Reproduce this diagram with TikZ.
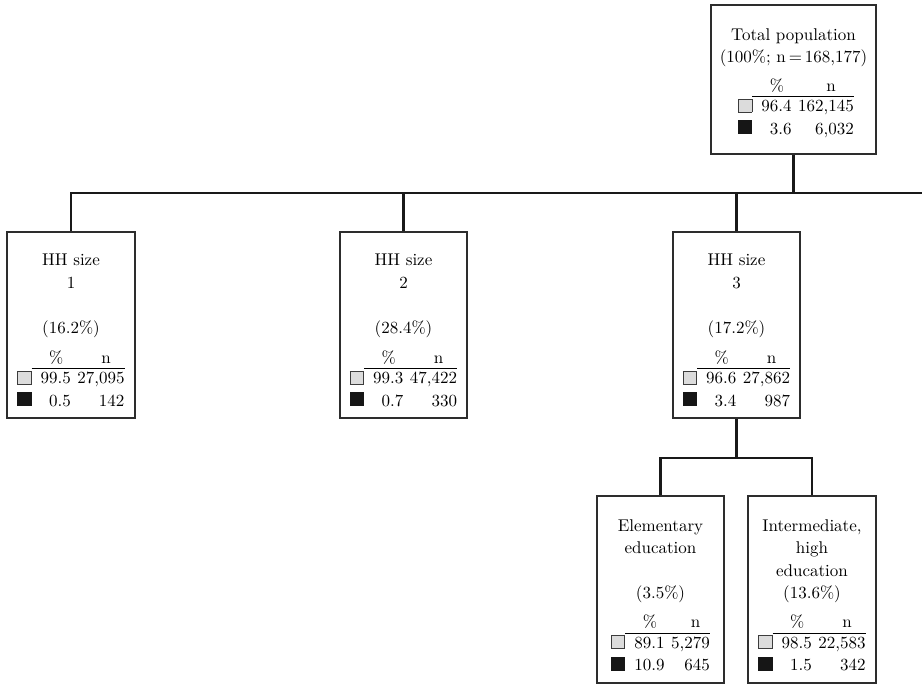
\documentclass[tikz,border=0pt]{standalone}
\usepackage{array}
\usepackage{graphicx}
\usetikzlibrary{calc}
\definecolor{sqlight}{RGB}{220,220,220}
\definecolor{sqedge}{RGB}{60,60,60}
\definecolor{sqdark}{RGB}{22,22,22}
\definecolor{boxedge}{RGB}{45,45,45}
\definecolor{connc}{RGB}{25,25,25}
\newcommand\lsq{{\setlength\fboxsep{0pt}\setlength\fboxrule{0.5pt}\fcolorbox{sqedge}{sqlight}{\rule{0pt}{7.3pt}\hspace{7.3pt}}}}
\newcommand\dsq{{\color{sqdark}\rule{8.3pt}{8.3pt}}}
\newcommand\bigtext[1]{\scalebox{1.7}{\fontsize{10}{13.2}\selectfont #1}}
\newcommand\stattab[4]{\bigtext{\setlength{\arrayrulewidth}{0.55pt}\begin{tabular}[t]{@{}c@{}>{\hspace{5.3pt}}r@{\hspace{3.8pt}}r@{}}
 & \multicolumn{1}{c@{\hspace{3.8pt}}}{\%} & \multicolumn{1}{c@{}}{n}\\[-1.2pt]\cline{2-3}
\lsq & #1 & #2\\
\dsq & #3 & #4
\end{tabular}}}
\newcommand\ttl[1]{\bigtext{\begin{tabular}[t]{@{}c@{}}#1\end{tabular}}}
\tikzset{
  stbox/.style={draw=boxedge,line width=1.1pt,inner sep=0pt},
  txt/.style={inner sep=0pt,anchor=base},
  conn/.style={draw=connc,line width=2.4pt}
}
\begin{document}
\begin{tikzpicture}[x=1pt,y=-1pt]
\useasboundingbox (0,0) rectangle (922,685);
% boxes
\node[stbox,minimum width=165pt,minimum height=149pt] (tot) at (793.5,79.5) {};
\node[stbox,minimum width=128pt,minimum height=186pt] (hh1) at (71,325) {};
\node[stbox,minimum width=127pt,minimum height=186pt] (hh2) at (403.5,325) {};
\node[stbox,minimum width=127pt,minimum height=186pt] (hh3) at (736.5,325) {};
\node[stbox,minimum width=127pt,minimum height=187pt] (ele) at (660.5,589.5) {};
\node[stbox,minimum width=128pt,minimum height=187pt] (int) at (812,589.5) {};
% titles
\node[txt] (totT) at ($(tot.north)+(0,36)$) {\ttl{Total population\\(100\%; n\,=\,168,177)}};
\node[txt] (hh1T) at ($(hh1.north)+(0,34.5)$) {\ttl{HH size\\1\\ \\(16.2\%)}};
\node[txt] (hh2T) at ($(hh2.north)+(0,34.5)$) {\ttl{HH size\\2\\ \\(28.4\%)}};
\node[txt] (hh3T) at ($(hh3.north)+(0,34.5)$) {\ttl{HH size\\3\\ \\(17.2\%)}};
\node[txt] (eleT) at ($(ele.north)+(0,36)$) {\ttl{Elementary\\education\\ \\(3.5\%)}};
\node[txt] (intT) at ($(int.north)+(0,36)$) {\ttl{Intermediate,\\high\\education\\(13.6\%)}};
% stats
\node[txt] (totS) at ($(tot.north)+(2.5,87)$) {\stattab{96.4}{162,145}{3.6}{6,032}};
\node[txt] (hh1S) at ($(hh1.north)+(0,132)$) {\stattab{99.5}{27,095}{0.5}{142}};
\node[txt] (hh2S) at ($(hh2.north)+(0,132)$) {\stattab{99.3}{47,422}{0.7}{330}};
\node[txt] (hh3S) at ($(hh3.north)+(0,132)$) {\stattab{96.6}{27,862}{3.4}{987}};
\node[txt] (eleS) at ($(ele.north)+(0,132.5)$) {\stattab{89.1}{5,279}{10.9}{645}};
\node[txt] (intS) at ($(int.north)+(0,132.5)$) {\stattab{98.5}{22,583}{1.5}{342}};
% connectors
\coordinate (busend) at (922,193);
\coordinate (split) at (736.5,458);
\draw[conn] (hh1.north) |- (busend);
\draw[conn] (hh2.north) -- (hh2.north |- busend);
\draw[conn] (hh3.north) -- (hh3.north |- busend);
\draw[conn] (tot.south) -- (tot.south |- busend);
\draw[conn] (hh3.south) -- (split);
\draw[conn] (ele.north) |- (split) -| (int.north);
\end{tikzpicture}
\end{document}
